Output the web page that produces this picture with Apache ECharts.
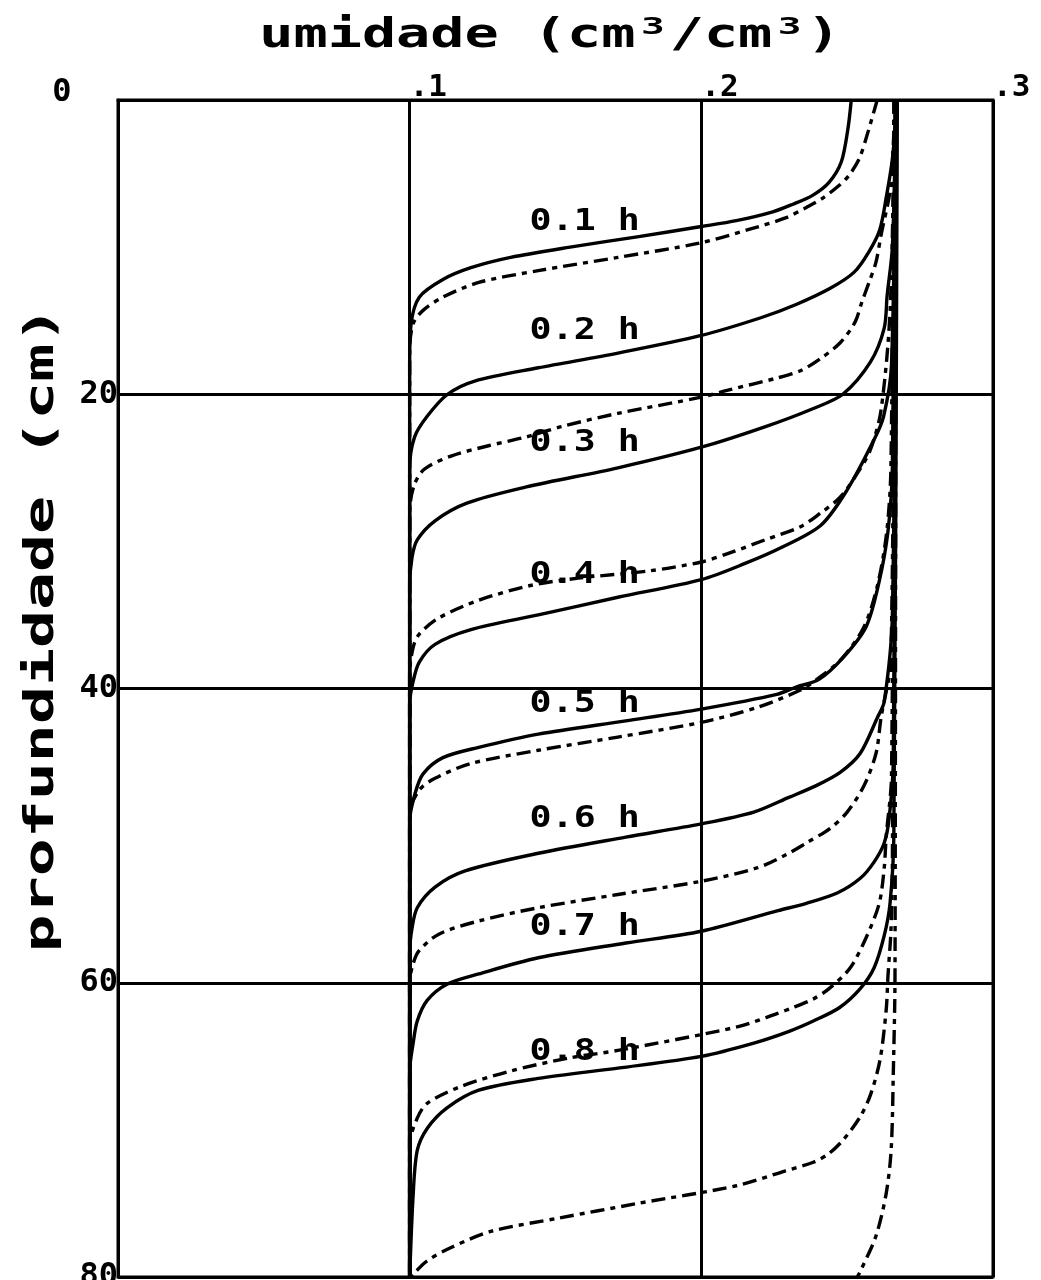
<!DOCTYPE html>
<html><head><meta charset="utf-8">
<script src="https://cdn.jsdelivr.net/npm/echarts@6/dist/echarts.min.js"></script>
<style>html,body{margin:0;padding:0;background:#fff}#c{width:1041px;height:1280px}</style>
</head><body><div id="c"></div>
<script>
// x axis: umidade (cm3/cm3); y axis: profundidade (cm), inverted
const xTicks = [0, 0.1, 0.2, 0.3];
const yTicks = [0, 20, 40, 60, 80];
const timeLabels = ['0.1 h', '0.2 h', '0.3 h', '0.4 h', '0.5 h', '0.6 h', '0.7 h', '0.8 h'];

// solid profiles [theta, depth]
const solid01 = [[0.2514,0],[0.2503,1.9],[0.248,4.2],[0.2438,5.6],[0.238,6.5],[0.2312,7.1],[0.2245,7.6],[0.212,8.2],[0.200,8.6],[0.178,9.3],[0.155,10.0],[0.1346,10.7],[0.121,11.4],[0.1114,12.2],[0.1033,13.4],[0.1005,15.2],[0.1,18],[0.1,80]];
const solid02 = [[0.2672,0],[0.2655,4],[0.2635,6.5],[0.2612,8.8],[0.2575,10.3],[0.2524,11.7],[0.2442,12.8],[0.2325,13.9],[0.2204,14.8],[0.2,16.0],[0.1714,17.2],[0.1441,18.2],[0.1223,19.1],[0.113,20.0],[0.106,21.5],[0.1017,22.9],[0.1,25],[0.1,80]];
const solid03 = [[0.2668,0],[0.2655,10],[0.2637,13.3],[0.2627,15.5],[0.258,17.8],[0.2485,20.0],[0.238,21.0],[0.222,22.2],[0.2,23.6],[0.1714,25.0],[0.140,26.3],[0.1196,27.4],[0.1087,28.6],[0.1026,29.9],[0.1008,31.1],[0.1,33],[0.1,80]];
const solid04 = [[0.2666,0],[0.2652,18],[0.2625,21.5],[0.2592,23.1],[0.25,26.5],[0.241,28.9],[0.2276,30.4],[0.215,31.5],[0.2,32.6],[0.1714,33.8],[0.1441,35.0],[0.121,36.0],[0.1087,37.0],[0.1033,38.2],[0.1012,39.5],[0.1,41],[0.1,80]];
const solid05 = [[0.2664,0],[0.2655,25],[0.264,29.3],[0.261,32.7],[0.2565,35.8],[0.2486,37.9],[0.2402,39.4],[0.2325,39.9],[0.2259,40.4],[0.2,41.4],[0.1741,42.2],[0.1441,43.1],[0.1237,44.0],[0.1114,44.7],[0.1046,45.8],[0.1019,47.1],[0.1,49],[0.1,80]];
const solid06 = [[0.2668,0],[0.2655,35],[0.2627,40.9],[0.2603,42.0],[0.2545,44.4],[0.2476,45.7],[0.2394,46.6],[0.230,47.4],[0.218,48.4],[0.2,49.2],[0.1741,50.1],[0.1441,51.2],[0.119,52.4],[0.1087,53.5],[0.1026,54.9],[0.1008,56.3],[0.1,58],[0.1,80]];
const solid07 = [[0.2670,0],[0.2658,45],[0.2644,48.8],[0.2627,50.5],[0.2592,51.8],[0.2545,52.9],[0.2466,53.9],[0.236,54.6],[0.2263,55.1],[0.2,56.5],[0.1741,57.3],[0.1441,58.3],[0.1237,59.4],[0.1128,60.1],[0.106,61.2],[0.1026,62.6],[0.1012,64.1],[0.1,66],[0.1,80]];
const solid08 = [[0.2672,0],[0.2660,50],[0.2647,54.6],[0.2627,56.8],[0.2592,59.0],[0.2545,60.4],[0.2473,61.7],[0.2384,62.6],[0.2301,63.3],[0.218,64.1],[0.2,65.0],[0.1714,65.8],[0.1441,66.5],[0.1237,67.3],[0.1128,68.5],[0.106,69.9],[0.1026,71.4],[0.1012,74.4],[0.1,80]];

// dashed profiles [theta, depth]
const dashed01 = [[0.2603,0],[0.2565,2.6],[0.2541,4.0],[0.2507,5.1],[0.2473,5.8],[0.2414,6.7],[0.236,7.3],[0.2291,8.0],[0.2163,8.8],[0.200,9.7],[0.1714,10.7],[0.1441,11.6],[0.1237,12.4],[0.1114,13.4],[0.1046,14.3],[0.1012,15.2],[0.1,17],[0.1,80]];
const dashed02 = [[0.2665,0],[0.2648,6],[0.2616,9.2],[0.2599,11.0],[0.2575,12.4],[0.2551,13.7],[0.2527,15.1],[0.2476,16.5],[0.2407,17.6],[0.234,18.4],[0.2259,18.9],[0.2095,19.7],[0.2,20.2],[0.1714,21.3],[0.152,22.2],[0.140,22.9],[0.127,23.5],[0.1142,24.2],[0.105,25.1],[0.1015,26.2],[0.1,28],[0.1,80]];
const dashed03 = [[0.2662,0],[0.2648,14],[0.2616,21.1],[0.2579,23.8],[0.2534,25.4],[0.2476,27.0],[0.2407,28.1],[0.234,29.0],[0.2218,29.9],[0.2095,30.8],[0.2,31.4],[0.1823,32.0],[0.1578,32.5],[0.1414,33.0],[0.1237,34.0],[0.110,35.2],[0.1033,36.3],[0.1012,37.2],[0.1,39],[0.1,80]];
const dashed04 = [[0.2660,0],[0.2650,25],[0.2636,29.3],[0.2605,32.9],[0.2558,35.8],[0.248,38.0],[0.2395,39.4],[0.234,40.1],[0.219,41.3],[0.2,42.3],[0.1714,43.3],[0.1441,44.2],[0.121,45.1],[0.1087,46.1],[0.1033,46.9],[0.1,48.5],[0.1,80]];
const dashed05 = [[0.2663,0],[0.2650,38],[0.2616,42.0],[0.2599,44.4],[0.2558,46.6],[0.25,48.4],[0.2442,49.5],[0.236,50.5],[0.229,51.3],[0.219,52.2],[0.2,53.1],[0.1714,54.0],[0.1441,54.9],[0.1237,55.8],[0.110,56.7],[0.1033,57.8],[0.1012,58.7],[0.1,60],[0.1,80]];
const dashed06 = [[0.2664,0],[0.2652,46],[0.2634,50.0],[0.2627,52.2],[0.261,54.6],[0.2568,56.8],[0.251,59.0],[0.2438,60.4],[0.2384,61.1],[0.2312,61.7],[0.2259,62.1],[0.2123,63.0],[0.1714,64.6],[0.155,65.1],[0.1346,66.0],[0.1169,67.1],[0.106,68.2],[0.1026,69.2],[0.1,71],[0.1,80]];
const dashed07 = [[0.2666,0],[0.2655,52],[0.2650,56.5],[0.264,59.5],[0.2634,61.8],[0.2613,65.2],[0.2582,67.5],[0.2548,69.0],[0.249,70.6],[0.2438,71.6],[0.2384,72.2],[0.2286,72.8],[0.212,73.8],[0.1782,75.0],[0.151,76.0],[0.1278,76.9],[0.1142,78.0],[0.106,78.9],[0.1012,79.8],[0.1,80]];
const dashed08 = [[0.2667,0],[0.2664,59.5],[0.2658,66.3],[0.2651,71.3],[0.2634,74.3],[0.2599,77.2],[0.2548,79.5],[0.2535,80]];

const solidCurves = [solid01, solid02, solid03, solid04, solid05, solid06, solid07, solid08];
const dashedCurves = [dashed01, dashed02, dashed03, dashed04, dashed05, dashed06, dashed07, dashed08];

const FONT = '"DejaVu Sans Mono", "Liberation Mono", monospace';
const chart = echarts.init(document.getElementById('c'), null, {renderer: 'canvas'});

function lineSeries(d, dashed) {
  return {
    type: 'line', data: d, symbol: 'none', showSymbol: false, silent: true,
    smooth: 0.3, animation: false,
    lineStyle: {color: '#000', width: 3.4, type: dashed ? [14, 6, 5, 6] : 'solid', cap: 'butt', join: 'round'},
    z: 3
  };
}

const series = [];
solidCurves.forEach(d => series.push(lineSeries(d, false)));
dashedCurves.forEach(d => series.push(lineSeries(d, true)));

chart.setOption({
  animation: false,
  backgroundColor: '#fff',
  grid: {left: 118, right: 48, top: 100, bottom: 3, show: true, borderColor: '#000', borderWidth: 3,
         containLabel: false, outerBoundsMode: 'none'},
  xAxis: {
    type: 'value', position: 'top', min: xTicks[0], max: xTicks[xTicks.length - 1], interval: 0.1,
    axisLine: {show: true, lineStyle: {color: '#000', width: 3}},
    axisTick: {show: false},
    splitLine: {show: true, lineStyle: {color: '#000', width: 3}},
    axisLabel: {
      color: '#000', fontFamily: FONT, fontWeight: 'bold', fontSize: 31, margin: -3, align: 'left',
      formatter: v => (Math.abs(v) < 1e-9 ? '' : '.' + Math.round(v * 10))
    }
  },
  yAxis: {
    type: 'value', inverse: true, min: yTicks[0], max: yTicks[yTicks.length - 1], interval: 20,
    axisLine: {show: true, lineStyle: {color: '#000', width: 3}},
    axisTick: {show: false},
    splitLine: {show: true, lineStyle: {color: '#000', width: 3}},
    axisLabel: {
      color: '#000', fontFamily: FONT, fontWeight: 'bold', fontSize: 32, margin: 0,
      formatter: v => (v === 0 ? '' : String(v))
    }
  },
  series: series
});

// crossing depth of a solid profile at theta = 0.2
function crossDepth(d, th) {
  for (let i = 0; i < d.length - 1; i++) {
    const a = d[i], b = d[i + 1];
    if ((a[0] - th) * (b[0] - th) <= 0 && a[0] !== b[0]) {
      const t = (th - a[0]) / (b[0] - a[0]);
      return a[1] + t * (b[1] - a[1]);
    }
  }
  return null;
}

const graphics = [];
solidCurves.forEach((d, i) => {
  const zc = crossDepth(d, 0.2);
  const p = chart.convertToPixel({gridIndex: 0}, [0.16, zc - 0.3]);
  graphics.push({
    type: 'text', x: p[0], y: p[1], scaleX: 1.22, z: 10,
    style: {text: timeLabels[i], font: 'bold 30px ' + FONT, fill: '#000', textAlign: 'center', textVerticalAlign: 'middle'}
  });
});
graphics.push({
  type: 'text', x: 550, y: 37, scaleX: 1.42, z: 10,
  style: {text: 'umidade (cm\u00B3/cm\u00B3)', font: 'bold 40px ' + FONT, fill: '#000', textAlign: 'center', textVerticalAlign: 'middle'}
});
graphics.push({
  type: 'text', x: 43, y: 629, rotation: Math.PI / 2, scaleX: 1.58, z: 10,
  style: {text: 'profundidade (cm)', font: 'bold 40px ' + FONT, fill: '#000', textAlign: 'center', textVerticalAlign: 'middle'}
});
const zeroPix = chart.convertToPixel({gridIndex: 0}, [xTicks[0], yTicks[0]]);
graphics.push({
  type: 'text', x: zeroPix[0] - 56, y: zeroPix[1] - 7, z: 10,
  style: {text: '0', font: 'bold 32px ' + FONT, fill: '#000', textAlign: 'center', textVerticalAlign: 'middle'}
});
chart.setOption({graphic: graphics});
</script>
</body></html>
